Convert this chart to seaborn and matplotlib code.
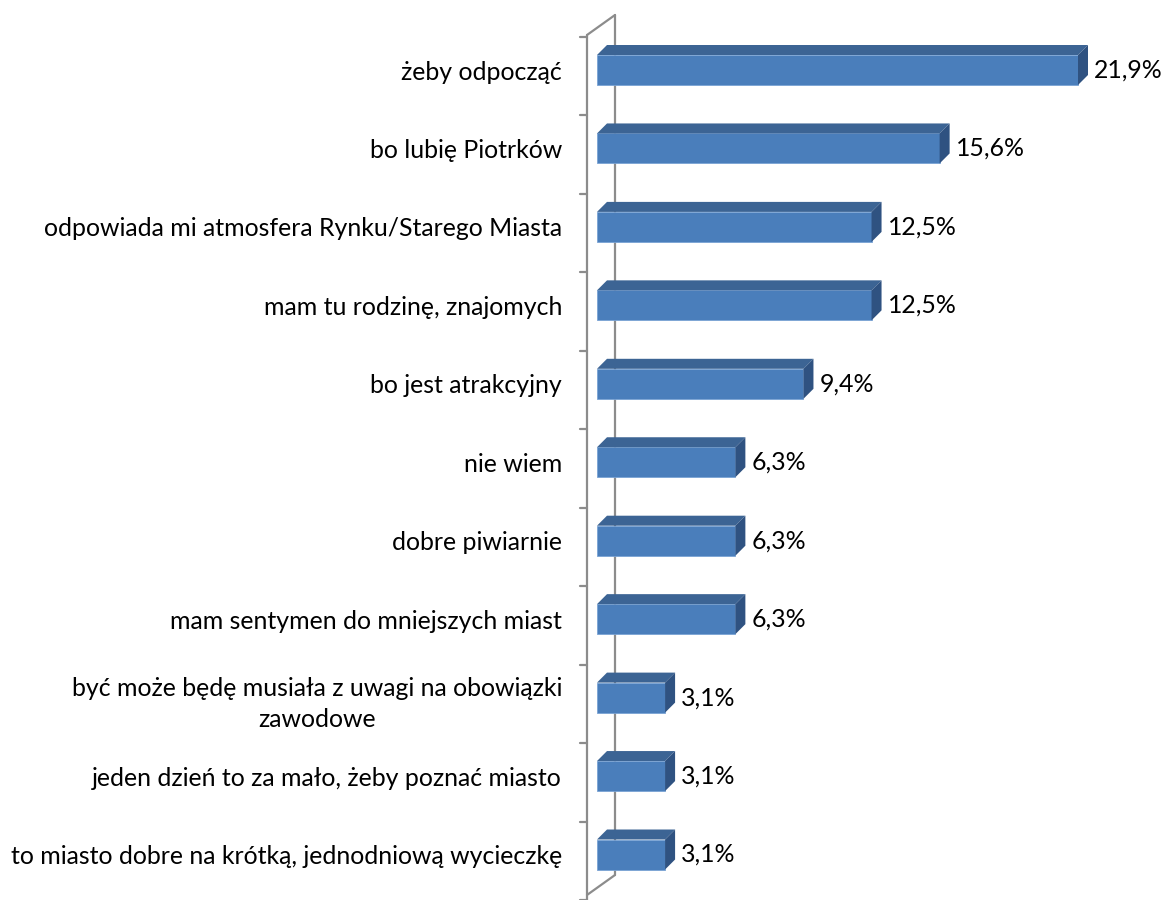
import numpy as np
import pandas as pd
import matplotlib
matplotlib.use("Agg")
import matplotlib.pyplot as plt
from matplotlib.patches import Polygon
import seaborn as sns

categories = [
    "żeby odpocząć",
    "bo lubię Piotrków",
    "odpowiada mi atmosfera Rynku/Starego Miasta",
    "mam tu rodzinę, znajomych",
    "bo jest atrakcyjny",
    "nie wiem",
    "dobre piwiarnie",
    "mam sentymen do mniejszych miast",
    "być może będę musiała z uwagi na obowiązki\nzawodowe",
    "jeden dzień to za mało, żeby poznać miasto",
    "to miasto dobre na krótką, jednodniową wycieczkę",
]
values = [21.9, 15.6, 12.5, 12.5, 9.4, 6.3, 6.3, 6.3, 3.1, 3.1, 3.1]
labels = ["21,9%", "15,6%", "12,5%", "12,5%", "9,4%", "6,3%", "6,3%", "6,3%", "3,1%", "3,1%", "3,1%"]

df = pd.DataFrame({"cat": categories, "val": values})

sns.set_style("white")
plt.rcParams["font.family"] = ["Lato", "DejaVu Sans"]

W, H = 1162, 900
fig = plt.figure(figsize=(W / 100, H / 100), dpi=100)

# pixel geometry of the reference
x0_px, kx = 597, 481 / 21.9      # x=0 position, px per percent
y0_px, ky = 70, 78.45            # first bar centre, px per category
ax_left_px = 580
ax = fig.add_axes([ax_left_px / W, 0, (W - ax_left_px) / W, 1])


def px2x(px):
    return (px - x0_px) / kx


def py2y(py):
    return (py - y0_px) / ky


front = "#4a7ebb"
top_c = "#3c6494"
side_c = "#2f5281"
bar_h = 30 / ky
dx = 10 / kx
dy = 10 / ky
fs = 17.9

sns.barplot(data=df, x="val", y="cat", orient="h", color=front, width=bar_h,
            saturation=1, edgecolor="#7aa3d4", linewidth=0.6, ax=ax, zorder=3)

ax.set_xlim((ax_left_px - x0_px) / kx, (W - x0_px) / kx)
ax.set_ylim((H - y0_px) / ky, -y0_px / ky)

for i, v in enumerate(values):
    yt = i - bar_h / 2
    yb = i + bar_h / 2
    ax.add_patch(Polygon([(0, yt), (dx, yt - dy), (v + dx, yt - dy), (v, yt)],
                         closed=True, facecolor=top_c, edgecolor="none", zorder=3))
    ax.add_patch(Polygon([(v, yt), (v + dx, yt - dy), (v + dx, yb - dy), (v, yb)],
                         closed=True, facecolor=side_c, edgecolor="none", zorder=3))
    ax.text(v + dx + 6 / kx, i, labels[i], va="center", ha="left",
            fontsize=fs, color="black")

# walls / axis lines
gray = "#8c8c8c"
xf, xb = px2x(587), px2x(615)
ax.plot([xf, xf], [py2y(35), py2y(H + 5)], color=gray, lw=1.6, zorder=2, clip_on=False)
ax.plot([xb, xb], [py2y(15), py2y(875)], color=gray, lw=1.6, zorder=1)
ax.plot([xf, xb], [py2y(35), py2y(15)], color=gray, lw=1.6, zorder=1)
ax.plot([xb, xf], [py2y(875), py2y(895)], color=gray, lw=1.6, zorder=1)
for k in range(12):
    yk = py2y(37 + 78.45 * k)
    ax.plot([px2x(580), xf], [yk, yk], color=gray, lw=1.6, zorder=2, clip_on=False)

ax.set_xlabel("")
ax.set_ylabel("")
ax.set_xticks([])
ax.set_yticks(range(len(categories)), categories, linespacing=1.45,
              multialignment="center", color="black", fontsize=fs)
ax.tick_params(axis="y", length=0, pad=13)
for s in ax.spines.values():
    s.set_visible(False)

fig.savefig("out.png", dpi=100)
